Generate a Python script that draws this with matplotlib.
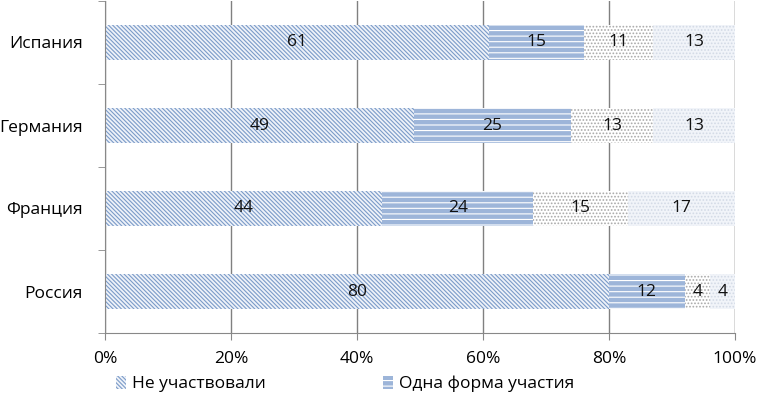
import matplotlib
matplotlib.use("Agg")
import matplotlib.pyplot as plt
import numpy as np

plt.rcParams['font.family'] = ['Open Sans', 'DejaVu Sans']
plt.rcParams['hatch.linewidth'] = 0.8

countries = ["Россия", "Франция", "Германия", "Испания"]
not_participated = [80, 44, 49, 61]
one_form = [12, 24, 25, 15]
two_forms = [4, 15, 13, 11]
three_forms = [4, 17, 13, 13]
legend_labels = ["Не участвовали", "Одна форма участия"]
xtick_labels = ["0%", "20%", "40%", "60%", "80%", "100%"]

series = [not_participated, one_form, two_forms, three_forms]
styles = [
    dict(facecolor="#eef2f9", edgecolor="#7b9bc8", hatch="\\\\\\\\\\\\\\\\"),
    dict(facecolor="#9db5d9", edgecolor="#ffffff", hatch="---"),
    dict(facecolor="#ffffff", edgecolor="#a8a8a8", hatch="....."),
    dict(facecolor="#f1f4f9", edgecolor="#d3dae6", hatch="....."),
]

fig = plt.figure(figsize=(7.62, 3.97), dpi=100)
ax = fig.add_axes([105/762, 1 - 333/397, 630/762, 332/397])

y = np.arange(len(countries))
left = np.zeros(len(countries))
bars_list = []
for vals, st in zip(series, styles):
    bars = ax.barh(y, vals, left=left, height=0.42, linewidth=0, zorder=2, **st)
    bars_list.append(bars)
    for yi, l, v in zip(y, left, vals):
        ax.text(l + v / 2, yi, str(v), ha="center", va="center", fontsize=12.5,
                color="#111111", zorder=3)
    left = left + np.array(vals)

ax.set_xlim(0, 100)
ax.set_ylim(-0.5, 3.5)
ax.set_xticks(np.arange(0, 101, 20))
ax.set_xticklabels(xtick_labels, fontsize=12.5)
ax.set_yticks(y)
ax.set_yticklabels(countries, fontsize=12.5)
ax.set_yticks(np.arange(-0.5, 3.6, 1), minor=True)
ax.tick_params(axis="y", which="major", length=0, pad=16)
ax.tick_params(axis="y", which="minor", length=5, color="#888888", direction="out")
ax.tick_params(axis="x", length=5, color="#888888", pad=8)
ax.grid(axis="x", color="#808080", linewidth=1.0, zorder=0)
ax.set_axisbelow(True)
for s in ["top", "right"]:
    ax.spines[s].set_visible(False)
for s in ["left", "bottom"]:
    ax.spines[s].set_color("#888888")
ax.axvline(100, color="#bbbbbb", linewidth=1.0, zorder=0)

handles = [bars_list[0][0], bars_list[1][0]]
fig.legend(handles, legend_labels, loc="upper left", bbox_to_anchor=(116/762, 1 - 376/397),
           ncol=2, frameon=False, fontsize=12.5, handlelength=0.6, handleheight=0.7,
           columnspacing=6.7, handletextpad=0.35, borderaxespad=0, borderpad=0)

fig.savefig("out.png", dpi=100)
